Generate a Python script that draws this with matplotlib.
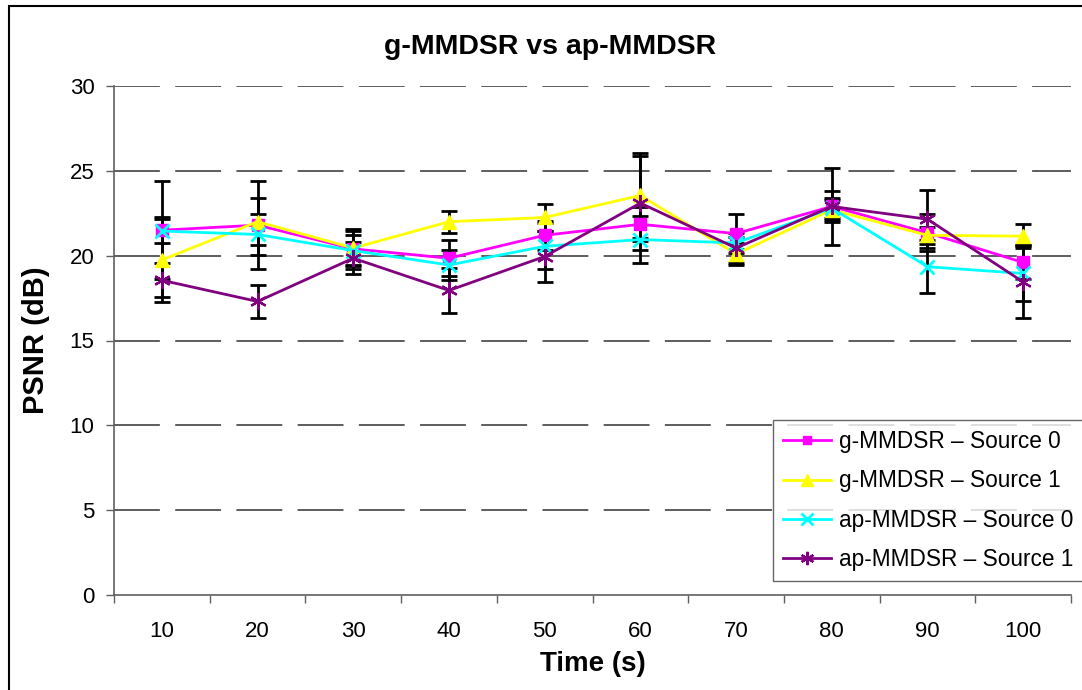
import matplotlib
matplotlib.use("Agg")
import matplotlib.pyplot as plt
from matplotlib.patches import Rectangle
import numpy as np

plt.rcParams['font.family'] = ['Liberation Sans', 'DejaVu Sans']

times = ["10", "20", "30", "40", "50", "60", "70", "80", "90", "100"]

g_src0 = [21.5, 21.8, 20.4, 19.85, 21.2, 21.85, 21.3, 22.9, 21.35, 19.6]
g_src1 = [19.75, 22.0, 20.45, 22.0, 22.25, 23.55, 20.1, 22.7, 21.2, 21.15]
ap_src0 = [21.45, 21.25, 20.3, 19.45, 20.55, 20.95, 20.75, 22.8, 19.35, 18.95]
ap_src1 = [18.55, 17.3, 19.85, 17.95, 19.95, 23.1, 20.45, 22.9, 22.15, 18.45]

g_src0_err = [2.9, 2.6, 1.2, 1.05, 0.85, 1.0, 1.15, 2.25, 1.1, 1.0]
g_src1_err = [2.5, 1.4, 1.0, 0.65, 0.82, 2.5, 0.65, 0.6, 0.5, 0.7]
ap_src0_err = [0.7, 1.2, 0.9, 0.9, 1.35, 1.4, 0.35, 0.6, 1.55, 1.6]
ap_src1_err = [1.0, 1.0, 0.95, 1.3, 1.5, 2.75, 0.9, 0.9, 1.7, 2.15]

labels = ["g-MMDSR \u2013 Source 0", "g-MMDSR \u2013 Source 1",
          "ap-MMDSR \u2013 Source 0", "ap-MMDSR \u2013 Source 1"]

fig = plt.figure(figsize=(10.82, 6.9), dpi=100)
ax = fig.add_axes([114 / 1082, 1 - 595 / 690, (1071 - 114) / 1082, (595 - 86) / 690])

x = np.arange(len(times))

series = [
    (g_src0, g_src0_err, "#FF00FF", "s", 8, 1.0),
    (g_src1, g_src1_err, "#FFFF00", "^", 10, 1.0),
    (ap_src0, ap_src0_err, "#00FFFF", "x", 10, 2.0),
    (ap_src1, ap_src1_err, "#800080", (6, 2, 0), 12, 1.6),
]

handles = []
for (vals, err, col, mk, ms, mew), lab in zip(series, labels):
    ax.errorbar(x, vals, yerr=err, fmt="none", ecolor="black", elinewidth=2,
                capsize=5.5, capthick=2, zorder=2)
    h, = ax.plot(x, vals, color=col, marker=mk, markersize=ms, linewidth=2,
                 markeredgewidth=mew, markeredgecolor=col, markerfacecolor=col,
                 label=lab, zorder=3)
    handles.append(h)

ax.set_xlim(-0.5, len(times) - 0.5)
ax.set_ylim(0, 30)
ax.set_yticks(range(0, 31, 5))
ax.set_xticks(x)
ax.set_xticklabels(times)
ax.set_xticks(np.arange(-0.5, len(times), 1.0), minor=True)
ax.tick_params(axis="x", which="major", length=0, pad=19, labelsize=16)
ax.tick_params(axis="x", which="minor", length=6, width=1, color="#606060", direction="out")
ax.tick_params(axis="y", length=6, width=1, color="#606060", direction="out", pad=8, labelsize=16)

for yv in range(5, 31, 5):
    ax.axhline(yv, color="#505050", linewidth=1.3, dashes=(25.4, 8.5), zorder=1)

for s in ["top", "right"]:
    ax.spines[s].set_visible(False)
for s in ["left", "bottom"]:
    ax.spines[s].set_color("#606060")
    ax.spines[s].set_linewidth(1.2)

ax.set_xlabel("Time (s)", fontsize=20, fontweight="bold", labelpad=6)
ax.set_ylabel("PSNR (dB)", fontsize=21, fontweight="bold", labelpad=14)
fig.text(550 / 1082, 1 - 47 / 690, "g-MMDSR vs ap-MMDSR", fontsize=20.5,
         fontweight="bold", ha="center", va="center")

leg = fig.legend(handles=handles, loc="upper left",
                 bbox_to_anchor=(773 / 1082, 1 - 420 / 690),
                 fontsize=16.3, frameon=True, fancybox=False, borderaxespad=0,
                 handlelength=2.1, handletextpad=0.35, labelspacing=0.72,
                 borderpad=0.45, markerscale=0.8)
leg.get_frame().set_edgecolor("#404040")
leg.get_frame().set_linewidth(1.0)

border = Rectangle((9 / 1082, -0.1), 1.2, 1.1 - 6 / 690, fill=False,
                   edgecolor="black", linewidth=1.5, transform=fig.transFigure,
                   clip_on=False)
fig.patches.append(border)

fig.savefig("out.png", dpi=100)
